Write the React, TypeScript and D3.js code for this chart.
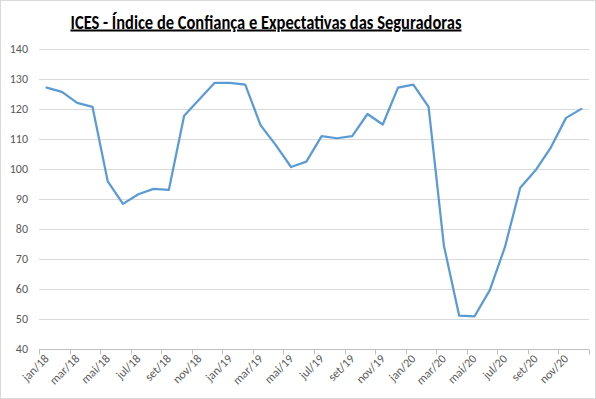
import * as d3 from 'd3'
import { useEffect, useRef } from 'react'

const months = ['jan', 'fev', 'mar', 'abr', 'mai', 'jun', 'jul', 'ago', 'set', 'out', 'nov', 'dez']
const years = ['18', '19', '20']
const categories = years.flatMap((y) => months.map((m) => `${m}/${y}`))

const ices2018 = [127.1, 125.7, 122.0, 120.7, 95.8, 88.3, 91.5, 93.3, 93.0, 117.7, 123.2, 128.7]
const ices2019 = [128.7, 128.1, 114.6, 107.9, 100.6, 102.4, 110.9, 110.2, 110.9, 118.3, 114.8, 127.1]
const ices2020 = [128.1, 120.7, 74.4, 51.0, 50.7, 59.4, 73.9, 93.7, 99.5, 107.1, 117.0, 120.0]
const values = [...ices2018, ...ices2019, ...ices2020]

const yTicks = [40, 50, 60, 70, 80, 90, 100, 110, 120, 130, 140]

const W = 596
const H = 399
const FONT = 'Carlito, Calibri, "Open Sans", "Liberation Sans", sans-serif'

export default function App() {
  const ref = useRef<SVGSVGElement>(null)

  useEffect(() => {
    const svg = d3.select(ref.current)
    svg.selectAll('*').remove()

    const x = d3.scaleBand().domain(categories).range([39, 589])
    const y = d3.scaleLinear().domain([40, 140]).range([348.5, 49])

    svg.append('rect')
      .attr('x', 0.5).attr('y', 0.5)
      .attr('width', W - 1).attr('height', H - 1)
      .attr('fill', '#fff').attr('stroke', '#d9d9d9')

    // gridlines
    svg.append('g')
      .selectAll('line')
      .data(yTicks.slice(1))
      .join('line')
      .attr('x1', 39).attr('x2', 589)
      .attr('y1', (d) => Math.round(y(d)) + 0.5)
      .attr('y2', (d) => Math.round(y(d)) + 0.5)
      .attr('stroke', '#d9d9d9').attr('stroke-width', 1)

    // y labels
    svg.append('g')
      .selectAll('text')
      .data(yTicks)
      .join('text')
      .attr('x', 28)
      .attr('y', (d) => y(d) + 4)
      .attr('text-anchor', 'end')
      .attr('font-family', FONT)
      .attr('font-size', 12)
      .attr('fill', '#595959')
      .text((d) => d)

    // x axis
    const xAxis = svg.append('g').attr('transform', `translate(0,${Math.round(y(40)) + 0.5})`)
    xAxis.append('line').attr('x1', 39).attr('x2', 589).attr('stroke', '#bfbfbf')
    const tickIdx = d3.range(0, categories.length + 1, 2)
    xAxis.selectAll('line.tick')
      .data(tickIdx)
      .join('line')
      .attr('class', 'tick')
      .attr('x1', (i) => Math.round(39 + i * x.step()) + 0.5)
      .attr('x2', (i) => Math.round(39 + i * x.step()) + 0.5)
      .attr('y1', 0).attr('y2', 5)
      .attr('stroke', '#bfbfbf')

    const labelCats = categories.filter((_, i) => i % 2 === 0)
    xAxis.selectAll('text')
      .data(labelCats)
      .join('text')
      .attr('transform', (d) => `translate(${x(d)! + x.bandwidth() / 2 + 3},10) rotate(-45)`)
      .attr('text-anchor', 'end')
      .attr('font-family', FONT)
      .attr('font-size', 12)
      .attr('fill', '#595959')
      .text((d) => d)

    // line
    const line = d3.line<number>()
      .x((_, i) => x(categories[i])! + x.bandwidth() / 2)
      .y((d) => y(d))
    svg.append('path')
      .datum(values)
      .attr('d', line)
      .attr('fill', 'none')
      .attr('stroke', '#5b9bd5')
      .attr('stroke-width', 2.25)
      .attr('stroke-linejoin', 'round')
      .attr('stroke-linecap', 'round')

    // title
    svg.append('text')
      .attr('x', 266)
      .attr('y', 28.5)
      .attr('text-anchor', 'middle')
      .attr('font-family', FONT)
      .attr('font-size', 20)
      .attr('font-weight', 'bold')
      .attr('fill', '#000')
      .attr('textLength', 391)
      .attr('lengthAdjust', 'spacingAndGlyphs')
      .attr('text-decoration', 'underline')
      .text('ICES - Índice de Confiança e Expectativas das Seguradoras')
  }, [])

  return (
    <svg
      ref={ref}
      width={W}
      height={H}
      style={{ position: 'absolute', left: 0, top: 0 }}
    />
  )
}
